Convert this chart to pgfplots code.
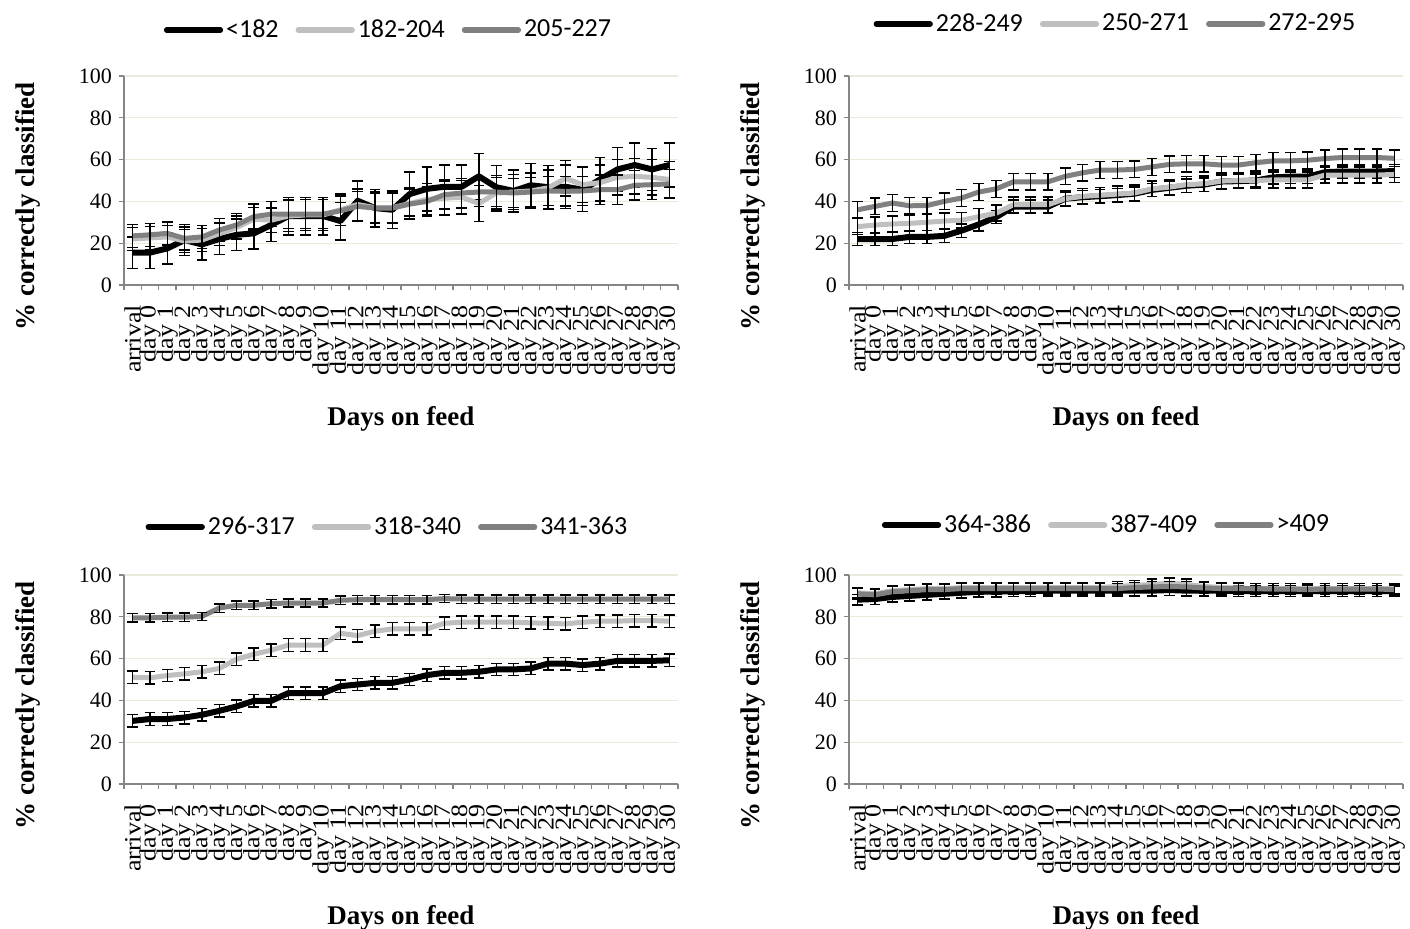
\documentclass[border=0pt]{standalone}
\usepackage{fontspec}
\setmainfont{Liberation Serif}
\newfontfamily\legendfont{Carlito}
\usepackage{graphicx}
\usepackage{pgfplots}
\usepackage{pgfplotstable}
\pgfplotsset{compat=1.18}

\definecolor{seriesA}{HTML}{000000}
\definecolor{seriesB}{HTML}{BFBFBF}
\definecolor{seriesC}{HTML}{808080}
\definecolor{axisgray}{HTML}{868686}
\definecolor{gridtan}{HTML}{ECE9DD}

% day labels, slightly compressed across their height
\newcommand{\dl}[1]{\scalebox{1}[0.9]{#1}}

% columns: category index, then mean and error of the three weight classes
\pgfplotstableread{
i a ae b be c ce
0 15.5 7.5 22.0 5.5 23.5 5.5
1 15.5 7.5 22.5 5.5 24.0 5.5
2 17.5 7.5 23.0 5.5 24.7 5.5
3 21.5 7.5 21.0 5.5 22.3 5.5
4 19.4 7.5 21.5 5.5 23.0 5.5
5 22.0 7.5 24.5 5.5 26.3 5.5
6 24.0 7.5 27.5 5.5 28.7 5.5
7 24.7 7.5 31.5 5.5 32.7 6
8 28.7 8 31.0 6 33.9 6
9 33.0 9 33.0 7.5 33.9 7
10 33.0 9 33.5 7.5 33.9 7
11 33.0 9 33.5 7.5 33.9 7
12 30.6 9 36.0 7.5 35.5 7
13 40.3 9.5 38.5 7.5 37.6 7
14 36.8 9 37.0 7.5 36.8 7
15 36.0 9 37.0 7.5 36.8 7
16 43.5 10.5 39.0 7.5 38.7 7
17 46.0 10.5 41.0 7.5 40.0 7
18 47.0 10.5 41.5 8 43.2 7
19 47.0 10.5 42.0 8 44.0 7
20 52.0 11 39.0 8.5 44.5 7
21 46.8 10.5 44.0 8.5 44.5 7
22 45.0 10 44.5 8.5 44.0 7
23 47.7 10.5 45.0 8.5 44.5 7
24 46.8 10.5 46.5 8.5 45.0 7
25 47.0 10.5 51.0 8.5 44.8 7
26 45.6 10.5 48.0 8.5 45.0 7
27 50.5 10.5 49.0 8.5 45.6 7
28 55.3 10.5 51.5 8.5 45.6 7
29 57.4 10.5 52.0 8.5 47.7 7
30 55.3 10 51.5 8.5 48.0 7
31 57.4 10.5 50.5 8.5 48.4 7
}\dataA

\pgfplotstableread{
i a ae b be c ce
0 22.0 3.2 27.9 3.8 36.0 4
1 22.0 3.2 28.7 3.8 37.6 4
2 22.0 3.2 29.2 3.8 39.2 4
3 23.0 3.2 29.5 3.8 37.9 4
4 23.0 3.2 30.0 3.8 38.0 4
5 23.5 3.2 30.6 3.8 40.0 4
6 26.0 3.2 31.0 3.8 41.6 4
7 29.0 3.2 32.7 3.8 44.5 4
8 32.5 3.2 34.4 3.8 46.0 4
9 37.5 3.2 38.4 3.8 49.4 4
10 37.5 3.2 38.4 3.8 49.4 4
11 37.5 3.2 38.4 3.8 49.4 4
12 41.3 3.2 41.3 3.8 52.0 4
13 42.0 3.2 42.4 3.8 53.7 4
14 42.5 3.2 42.9 3.8 55.0 4
15 43.0 3.2 43.5 3.8 55.0 4
16 43.7 3.2 44.0 3.8 55.3 4
17 45.5 3.2 46.0 3.8 56.5 4
18 46.5 3.2 46.8 3.8 57.7 4
19 47.5 3.2 48.0 3.8 58.0 4
20 48.0 3.2 48.4 3.8 58.0 4
21 49.5 3.2 49.7 3.8 57.4 4
22 49.7 3.2 50.0 3.8 57.4 4
23 50.0 3.2 50.0 3.8 58.5 4
24 51.5 3.2 50.3 3.8 59.4 4
25 51.8 3.2 50.3 3.8 59.4 4
26 51.8 3.2 50.3 3.8 59.7 4
27 54.0 3.2 52.6 3.8 60.5 4
28 54.3 3.2 52.6 3.8 61.0 4
29 54.3 3.2 52.6 3.8 61.0 4
30 54.3 3.2 52.6 3.8 61.0 4
31 54.5 3.2 52.9 3.8 60.6 4
}\dataB

\pgfplotstableread{
i a ae b be c ce
0 30.2 3 51.1 3 79.5 2
1 31.1 3 50.8 3 79.5 2
2 31.1 3 51.9 3 79.8 2
3 31.8 3 52.7 3 79.8 2
4 33.1 3 53.7 3 80.2 2
5 35.0 3 55.3 3 84.2 2
6 37.1 3 59.7 3 85.5 2
7 39.8 3 62.1 3 85.5 2
8 39.8 3 64.0 3 86.3 2
9 43.5 3 66.5 3 86.6 2
10 43.5 3 66.5 3 86.6 2
11 43.5 3 66.5 3 86.6 2
12 46.8 3 72.1 3 87.9 2
13 47.6 3 71.0 3 88.2 2
14 48.4 3 73.1 3 88.2 2
15 48.4 3 74.2 3 88.2 2
16 50.0 3 74.2 3 88.2 2
17 52.1 3 74.2 3 88.2 2
18 53.2 3 76.9 3 88.7 2
19 53.2 3 77.4 3 88.5 2
20 53.7 3 77.4 3 88.5 2
21 54.8 3 77.4 3 88.5 2
22 54.8 3 77.4 3 88.5 2
23 55.3 3 77.1 3 88.5 2
24 57.6 3 76.9 3 88.5 2
25 57.6 3 76.6 3 88.5 2
26 56.9 3 77.4 3 88.5 2
27 57.6 3 77.9 3 88.5 2
28 58.9 3 77.9 3 88.5 2
29 58.9 3 78.2 3 88.5 2
30 58.9 3 78.2 3 88.5 2
31 59.2 3 77.9 3 88.5 2
}\dataC

\pgfplotstableread{
i a ae b be c ce
0 88.2 2.5 91.5 2.5 91.0 2.5
1 88.5 2.5 91.0 2.5 90.5 2.5
2 89.5 2.5 92.5 2.5 92.0 2.5
3 90.0 2.5 93.0 2.5 92.5 2.5
4 90.5 2.5 93.5 2.5 93.0 2.5
5 91.0 2.5 93.5 2.5 93.0 2.5
6 91.5 2.5 94.0 2.5 93.5 2.5
7 92.0 2.5 94.0 2.5 93.5 2.5
8 92.0 2.5 94.0 2.5 93.5 2.5
9 92.3 2.5 94.0 2.5 93.5 2.5
10 92.3 2.5 94.0 2.5 93.5 2.5
11 92.5 2.5 94.0 2.5 93.5 2.5
12 92.5 2.5 94.0 2.5 93.5 2.5
13 92.5 2.5 94.0 2.5 93.5 2.5
14 92.5 2.5 94.0 2.5 93.5 2.5
15 92.5 2.5 94.5 2.5 93.5 2.5
16 92.5 2.5 95.0 2.5 94.0 2.5
17 92.5 2.5 95.5 2.5 94.3 2.5
18 92.8 2.5 96.0 2.5 94.5 2.5
19 92.5 2.5 95.5 2.5 94.3 2.5
20 92.5 2.5 94.5 2.5 93.8 2.5
21 92.5 2.5 94.0 2.5 93.5 2.5
22 92.3 2.5 93.8 2.5 93.5 2.5
23 92.3 2.5 93.5 2.5 93.5 2.5
24 92.3 2.5 93.5 2.5 93.3 2.5
25 92.3 2.5 93.5 2.5 93.3 2.5
26 92.3 2.5 93.5 2.5 93.0 2.5
27 92.3 2.5 93.5 2.5 93.3 2.5
28 92.3 2.5 93.5 2.5 93.3 2.5
29 92.3 2.5 93.5 2.5 93.3 2.5
30 92.3 2.5 93.5 2.5 93.3 2.5
31 92.3 2.5 93.5 2.5 93.0 2.5
}\dataD

\pgfplotsset{
  feedaxis/.style={
    scale only axis, width=277pt, height=104.5pt,
    xmin=-0.5, xmax=31.5, ymin=0, ymax=100,
    axis x line*=bottom, axis y line*=left,
    axis line style={axisgray, line width=0.75pt},
    ytick={0,20,...,100},
    xtick={0,...,31},
    xticklabels={\dl{arrival},\dl{day 0},\dl{day 1},\dl{day 2},\dl{day 3},\dl{day 4},\dl{day 5},\dl{day 6},\dl{day 7},\dl{day 8},\dl{day 9},\dl{day 10},\dl{day 11},\dl{day 12},\dl{day 13},\dl{day 14},\dl{day 15},\dl{day 16},\dl{day 17},\dl{day 18},\dl{day 19},\dl{day 20},\dl{day 21},\dl{day 22},\dl{day 23},\dl{day 24},\dl{day 25},\dl{day 26},\dl{day 27},\dl{day 28},\dl{day 29},\dl{day 30}},
    minor xtick={-0.5,0.5,...,31.5},
    major x tick style={draw=none},
    minor x tick style={axisgray, line width=0.6pt},
    ytick style={axisgray, line width=0.6pt},
    tick align=outside,
    major tick length=2.5pt, minor tick length=2.5pt,
    ymajorgrids, major grid style={gridtan, line width=0.6pt},
    /pgf/number format/assume math mode=true,
    yticklabel style={font=\fontsize{11}{11}\selectfont},
    xticklabel style={rotate=90, anchor=east, font=\fontsize{13}{13}\selectfont},
    xticklabel shift=4pt,
    xlabel={\textbf{Days on feed}},
    ylabel={\textbf{\% correctly classified}},
    label style={font=\fontsize{13.5}{13.5}\selectfont},
    xlabel style={at={([yshift=-67pt]axis description cs:0.5,0)}, anchor=center},
    ylabel style={at={([xshift=-48pt,yshift=-13pt]axis description cs:0,0.5)}, anchor=center},
    legend columns=3,
    legend style={draw=none, fill=none, font=\legendfont\fontsize{13}{13}\selectfont,
      nodes={inner sep=1.5pt},
      /tikz/every even column/.append style={column sep=7pt}},
    legend image code/.code={\draw[#1, line width=2.6pt, line cap=round] (0pt,0pt) -- (27pt,0pt);},
    error bars/y dir=both, error bars/y explicit,
    error bars/error bar style={black, line width=0.7pt},
    error bars/error mark options={rotate=90, black, line width=0.7pt, mark size=2.7pt},
  },
  serA/.style={seriesA, line width=3pt, line join=round, no markers},
  serB/.style={seriesB, line width=2.5pt, line join=round, no markers},
  serC/.style={seriesC, line width=2.5pt, line join=round, no markers},
}

\begin{document}
\begin{tikzpicture}
\path[use as bounding box] (0pt,0pt) rectangle (705pt,464pt);

\begin{axis}[feedaxis, at={(62pt,321.5pt)}, anchor=south west,
  legend style={at={([xshift=-6pt,yshift=23pt]axis description cs:0.5,1)}, anchor=center}]
  \addplot[serA] table[x=i, y=a, y error=ae] {\dataA};
  \addplot[serB] table[x=i, y=b, y error=be] {\dataA};
  \addplot[serC] table[x=i, y=c, y error=ce] {\dataA};
  \legend{<182, 182-204, 205-227}
\end{axis}

\begin{axis}[feedaxis, at={(424.5pt,321.5pt)}, anchor=south west,
  legend style={at={([xshift=-5pt,yshift=26pt]axis description cs:0.5,1)}, anchor=center}]
  \addplot[serA] table[x=i, y=a, y error=ae] {\dataB};
  \addplot[serB] table[x=i, y=b, y error=be] {\dataB};
  \addplot[serC] table[x=i, y=c, y error=ce] {\dataB};
  \legend{228-249, 250-271, 272-295}
\end{axis}

\begin{axis}[feedaxis, at={(62pt,72pt)}, anchor=south west,
  legend style={at={([xshift=-6.5pt,yshift=24pt]axis description cs:0.5,1)}, anchor=center}]
  \addplot[serA] table[x=i, y=a, y error=ae] {\dataC};
  \addplot[serB] table[x=i, y=b, y error=be] {\dataC};
  \addplot[serC] table[x=i, y=c, y error=ce] {\dataC};
  \legend{296-317, 318-340, 341-363}
\end{axis}

\begin{axis}[feedaxis, at={(424.5pt,72pt)}, anchor=south west,
  legend style={at={([xshift=-9.5pt,yshift=25pt]axis description cs:0.5,1)}, anchor=center}]
  \addplot[serA] table[x=i, y=a, y error=ae] {\dataD};
  \addplot[serB] table[x=i, y=b, y error=be] {\dataD};
  \addplot[serC] table[x=i, y=c, y error=ce] {\dataD};
  \legend{364-386, 387-409, >409}
\end{axis}
\end{tikzpicture}
\end{document}
